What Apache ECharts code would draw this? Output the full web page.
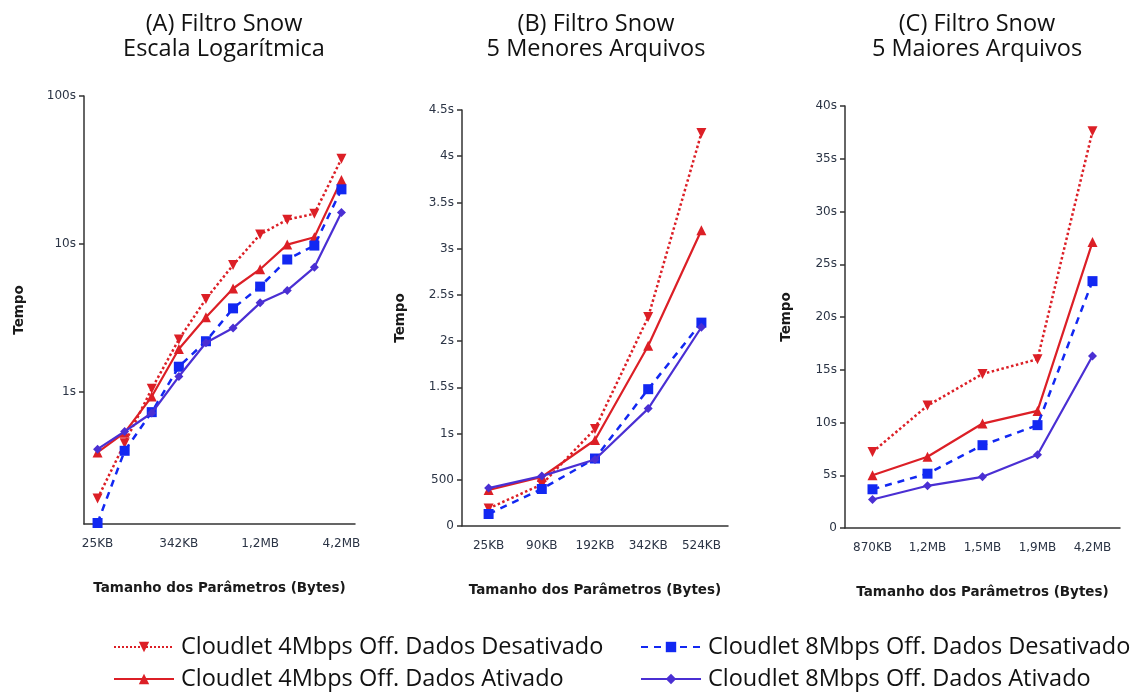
<!DOCTYPE html>
<html>
<head>
<meta charset="utf-8">
<script src="https://cdn.jsdelivr.net/npm/echarts@6/dist/echarts.min.js"></script>
<style>
  html, body { margin: 0; padding: 0; background: #fff; }
  #main { width: 1133px; height: 695px; }
</style>
</head>
<body>
<div id="main"></div>
<script>
// categorias (tamanho dos parametros)
var categorias = ['25KB', '90KB', '192KB', '342KB', '524KB', '870KB', '1,2MB', '1,5MB', '1,9MB', '4,2MB']

// tempos em segundos
var c4Desativado = [0.19, 0.45, 1.05, 2.26, 4.25, 7.2, 11.6, 14.6, 16.0, 37.6]
var c4Ativado = [0.39, 0.53, 0.93, 1.95, 3.2, 5.0, 6.75, 9.9, 11.1, 27.1]
var c8Desativado = [0.13, 0.4, 0.73, 1.48, 2.2, 3.67, 5.15, 7.85, 9.75, 23.4]
var c8Ativado = [0.41, 0.54, 0.72, 1.27, 2.15, 2.7, 4.0, 4.85, 6.95, 16.3]

var nomes = [
    'Cloudlet 4Mbps Off. Dados Desativado',
    'Cloudlet 4Mbps Off. Dados Ativado',
    'Cloudlet 8Mbps Off. Dados Desativado',
    'Cloudlet 8Mbps Off. Dados Ativado'
]
var ticksLog = [1, 10, 100]

var vermelho = '#dc1f26'
var azul = '#1228f2'
var roxo = '#4a2fd3'
var corEixo = '#333333'
var corTexto = '#2b3445'

var myChart = echarts.init(document.getElementById('main'))

function eixoX(grid, dados, intervalo) {
    return {
        type: 'category',
        gridIndex: grid,
        data: dados,
        boundaryGap: true,
        name: 'Tamanho dos Parâmetros (Bytes)',
        nameLocation: 'middle',
        nameGap: 57,
        nameTextStyle: { fontFamily: 'DejaVu Sans', fontWeight: 'bold', fontSize: 13.5, color: '#1a1a1a' },
        axisLine: { lineStyle: { color: corEixo, width: 1.5 } },
        axisTick: { alignWithLabel: true, interval: intervalo, length: 5, lineStyle: { color: corEixo, width: 1.5 } },
        axisLabel: { interval: intervalo, margin: 14, fontFamily: 'DejaVu Sans', fontSize: 12, color: corTexto },
        splitLine: { show: false }
    }
}

function eixoY(grid, extra, gap) {
    var base = {
        gridIndex: grid,
        name: 'Tempo',
        nameLocation: 'middle',
        nameGap: gap,
        nameRotate: 90,
        nameTextStyle: { fontFamily: 'DejaVu Sans', fontWeight: 'bold', fontSize: 13.5, color: '#1a1a1a' },
        axisLine: { show: true, lineStyle: { color: corEixo, width: 1.5 } },
        axisTick: { show: true, length: 5, lineStyle: { color: corEixo, width: 1.5 } },
        axisLabel: { margin: 8, fontFamily: 'DejaVu Sans', fontSize: 12, color: corTexto },
        splitLine: { show: false }
    }
    return echarts.util.merge(base, extra, true)
}

function series(grid, ini, fim) {
    return [{
        name: nomes[0], type: 'line', xAxisIndex: grid, yAxisIndex: grid,
        data: c4Desativado.slice(ini, fim),
        symbol: 'triangle', symbolRotate: 180, symbolSize: 10,
        lineStyle: { color: vermelho, width: 2.5, type: 'dotted' },
        itemStyle: { color: vermelho },
        z: 4
    }, {
        name: nomes[1], type: 'line', xAxisIndex: grid, yAxisIndex: grid,
        data: c4Ativado.slice(ini, fim),
        symbol: 'triangle', symbolSize: 10,
        lineStyle: { color: vermelho, width: 2.2 },
        itemStyle: { color: vermelho },
        z: 3
    }, {
        name: nomes[2], type: 'line', xAxisIndex: grid, yAxisIndex: grid,
        data: c8Desativado.slice(ini, fim),
        symbol: 'rect', symbolSize: 10,
        lineStyle: { color: azul, width: 2.5, type: [7, 6] },
        itemStyle: { color: azul },
        z: 5
    }, {
        name: nomes[3], type: 'line', xAxisIndex: grid, yAxisIndex: grid,
        data: c8Ativado.slice(ini, fim),
        symbol: 'diamond', symbolSize: 9,
        lineStyle: { color: roxo, width: 2.2 },
        itemStyle: { color: roxo },
        z: 6
    }]
}

var tituloEstilo = { fontFamily: 'Open Sans', fontSize: 23.5, fontWeight: 'normal', color: '#111', lineHeight: 25 }

// uma legenda por item, em duas colunas
function legenda(nome, x, y) {
    return {
        left: x, top: y,
        itemWidth: 60, itemHeight: 13,
        data: [nome],
        textStyle: { fontFamily: 'Open Sans', fontSize: 23.5, color: '#111', padding: [0, 0, 0, 2] }
    }
}

var option = {
    animation: false,
    title: [
        { text: '(A) Filtro Snow\nEscala Logarítmica', left: 219, top: 7, textAlign: 'center', textStyle: tituloEstilo },
        { text: '(B) Filtro Snow\n5 Menores Arquivos', left: 591, top: 7, textAlign: 'center', textStyle: tituloEstilo },
        { text: '(C) Filtro Snow\n5 Maiores Arquivos', left: 972, top: 7, textAlign: 'center', textStyle: tituloEstilo }
    ],
    legend: [
        legenda(nomes[0], 108, 630),
        legenda(nomes[1], 108, 662),
        legenda(nomes[2], 635, 630),
        legenda(nomes[3], 635, 662)
    ],
    grid: [
        { left: 84, right: 778, top: 96, bottom: 171 },
        { left: 462, right: 405, top: 110, bottom: 169 },
        { left: 845, right: 13, top: 106, bottom: 167 }
    ],
    xAxis: [
        eixoX(0, categorias, 2),
        eixoX(1, categorias.slice(0, 5), 0),
        eixoX(2, categorias.slice(5), 0)
    ],
    yAxis: [
        eixoY(0, {
            type: 'log', logBase: 10, min: 0.128, max: 100,
            axisTick: { customValues: ticksLog },
            axisLabel: { customValues: ticksLog, formatter: function (v) { return v + 's' } }
        }, 58),
        eixoY(1, {
            type: 'value', min: 0, max: 4.5, interval: 0.5,
            axisLabel: { formatter: function (v) { return v === 0 ? '0' : (v === 0.5 ? '500' : v + 's') } }
        }, 55),
        eixoY(2, {
            type: 'value', min: 0, max: 40, interval: 5,
            axisLabel: { formatter: function (v) { return v === 0 ? '0' : v + 's' } }
        }, 52)
    ],
    series: [].concat(series(0, 0, 10), series(1, 0, 5), series(2, 5, 10))
}

myChart.setOption(option)
</script>
</body>
</html>
